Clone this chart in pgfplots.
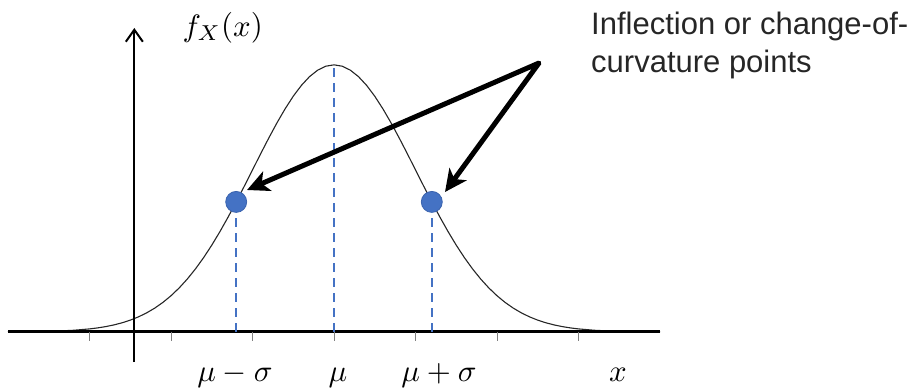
\documentclass[border=0pt]{standalone}
\usepackage{pgfplots}
\pgfplotsset{compat=1.18}
\usepackage{pgfplotstable}
\usepackage{fontspec}
\setmainfont{Liberation Sans}
\usetikzlibrary{arrows.meta}
\definecolor{dashblue}{HTML}{4472C4}
\definecolor{dotedge}{HTML}{3A63AE}
\definecolor{txt}{HTML}{262626}

% density of the standard normal, sampled
\pgfplotstableread{
x y
-4.0 0.00013
-3.8 0.00029
-3.6 0.00061
-3.4 0.00123
-3.2 0.00238
-3.0 0.00443
-2.9 0.00595
-2.8 0.00792
-2.7 0.01042
-2.6 0.01358
-2.5 0.01753
-2.4 0.02239
-2.3 0.02833
-2.2 0.03547
-2.1 0.04398
-2.0 0.05399
-1.9 0.06562
-1.8 0.07895
-1.7 0.09405
-1.6 0.11092
-1.5 0.12952
-1.4 0.14973
-1.3 0.17137
-1.2 0.19419
-1.1 0.21785
-1.0 0.24197
-0.9 0.26609
-0.8 0.28969
-0.7 0.31225
-0.6 0.33322
-0.5 0.35207
-0.4 0.36827
-0.3 0.38139
-0.2 0.39104
-0.1 0.39695
0.0 0.39894
0.1 0.39695
0.2 0.39104
0.3 0.38139
0.4 0.36827
0.5 0.35207
0.6 0.33322
0.7 0.31225
0.8 0.28969
0.9 0.26609
1.0 0.24197
1.1 0.21785
1.2 0.19419
1.3 0.17137
1.4 0.14973
1.5 0.12952
1.6 0.11092
1.7 0.09405
1.8 0.07895
1.9 0.06562
2.0 0.05399
2.1 0.04398
2.2 0.03547
2.3 0.02833
2.4 0.02239
2.5 0.01753
2.6 0.01358
2.7 0.01042
2.8 0.00792
2.9 0.00595
3.0 0.00443
3.2 0.00238
3.4 0.00123
3.6 0.00061
3.8 0.00029
4.0 0.00013
}\curve

\tikzset{mathlabel/.style={inner sep=0, font=\fontsize{10bp}{12bp}\selectfont,
  scale=3.1, transform shape}}

\begin{document}
\begin{tikzpicture}[x=1bp,y=1bp]
\useasboundingbox (0,0) rectangle (924,389);
\begin{axis}[
  at={(8bp,27bp)}, anchor=south west,
  scale only axis, width=652bp, height=334bp,
  xmin=-4, xmax=4, ymin=-0.045, ymax=0.454,
  hide axis, clip=false]
  % bell curve
  \addplot[black!85, line width=1.1bp] table[x=x,y=y] {\curve};
  % horizontal axis and its ticks
  \draw[black, line width=3bp] (axis cs:-4,0) -- (axis cs:4,0);
  \draw[gray, line width=1bp] (axis cs:-3,0) -- ([yshift=-9bp]axis cs:-3,0);
  \draw[gray, line width=1bp] (axis cs:-2,0) -- ([yshift=-9bp]axis cs:-2,0);
  \draw[gray, line width=1bp] (axis cs:-1,0) -- ([yshift=-9bp]axis cs:-1,0);
  \draw[gray, line width=1bp] (axis cs:0,0) -- ([yshift=-9bp]axis cs:0,0);
  \draw[gray, line width=1bp] (axis cs:1,0) -- ([yshift=-9bp]axis cs:1,0);
  \draw[gray, line width=1bp] (axis cs:2,0) -- ([yshift=-9bp]axis cs:2,0);
  \draw[gray, line width=1bp] (axis cs:3,0) -- ([yshift=-9bp]axis cs:3,0);
  % vertical axis
  \draw[black, line width=2bp, -{Straight Barb[length=12bp,width=17bp]}]
    (axis cs:-2.45,-0.045) -- (axis cs:-2.45,0.454);
  % guides at mu - sigma, mu, mu + sigma
  \addplot[dashblue, line width=2.2bp, dash pattern=on 9bp off 6bp]
    coordinates {(-1.2,0) (-1.2,0.19419)};
  \addplot[dashblue, line width=2.2bp, dash pattern=on 9bp off 6bp]
    coordinates {(0,0) (0,0.39894)};
  \addplot[dashblue, line width=2.2bp, dash pattern=on 9bp off 6bp]
    coordinates {(1.2,0) (1.2,0.19419)};
  % inflection points
  \addplot[only marks, mark=*, mark size=10.5bp,
    mark options={fill=dashblue, draw=dotedge, line width=0.8bp}]
    coordinates {(-1.2,0.19419) (1.2,0.19419)};
\end{axis}
% pointers from the annotation
\draw[black, line width=5bp, line join=round,
  {Stealth[length=22bp,width=21bp,inset=6bp]}-{Stealth[length=22bp,width=21bp,inset=6bp]}]
  (247,199) -- (539,326) -- (445,197);
% annotation text
\node[anchor=base west, inner sep=0, text=txt, font=\fontsize{31bp}{38bp}\selectfont]
  at (591,355) {Inflection or change-of-};
\node[anchor=base west, inner sep=0, text=txt, font=\fontsize{31bp}{38bp}\selectfont]
  at (591,317) {curvature points};
% axis labels
\node[mathlabel, anchor=base west] at (182,353) {$f_X(x)$};
\node[mathlabel, anchor=base] at (235,8) {$\mu-\sigma$};
\node[mathlabel, anchor=base] at (338,8) {$\mu$};
\node[mathlabel, anchor=base] at (439,8) {$\mu+\sigma$};
\node[mathlabel, anchor=base] at (618,8) {$x$};
\end{tikzpicture}
\end{document}
